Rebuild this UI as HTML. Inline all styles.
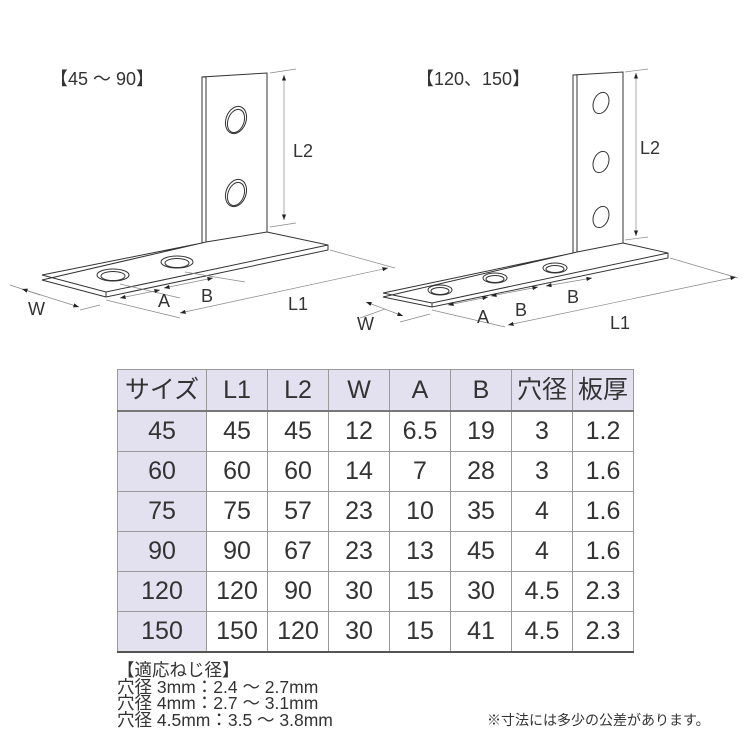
<!DOCTYPE html>
<html><head><meta charset="utf-8"><style>
body{margin:0;background:#fff;width:750px;height:750px;overflow:hidden;position:relative;font-family:"Liberation Sans","Noto Sans CJK JP",sans-serif;color:#333}
svg{position:absolute;left:0;top:0}
table{position:absolute;left:117px;top:369px;border-collapse:collapse;font-size:25px;color:#333}
td{border:1px solid #999;text-align:center;padding:0;height:39px;width:60px;line-height:39px}
tr:first-child td{background:#e3e1f0;height:40px;border-bottom:2px solid #777}
td:first-child{background:#e3e1f0;width:88px}
tr:last-child td{border-bottom:2px solid #555}
.note{position:absolute;left:117px;top:662px;font-size:17.5px;line-height:16.5px;color:#333}
.note2{position:absolute;left:487px;top:710px;font-size:14px;color:#333}
</style></head><body>
<svg width="750" height="750" viewBox="0 0 750 750" fill="none" stroke="#333" stroke-width="1">
<defs><marker id="a" markerWidth="8" markerHeight="6" refX="8" refY="3" orient="auto-start-reverse"><path d="M0,0L8,3L0,6Z" fill="#222" stroke="none"/></marker></defs>
<g>
<path d="M202,243 L202,77 L267,73 L267,232 M206,243 L206,77 M202,77 L206,77" />
<path d="M42,275 L202,243 M206,242 L267,232 L328,245 L328,250 L106,297 L42,280 Z M42,275 L106,292 L328,245 M106,292 L106,297" fill="#fff"/>
<ellipse cx="113" cy="275" rx="16" ry="6"/><ellipse cx="113" cy="276" rx="12" ry="4.5"/>
<ellipse cx="177" cy="262" rx="16" ry="6"/><ellipse cx="177" cy="263" rx="12" ry="4.5"/>
<ellipse cx="236" cy="120" rx="10" ry="14" transform="rotate(20 236 120)"/><ellipse cx="236" cy="121" rx="8" ry="12" transform="rotate(20 236 121)"/>
<ellipse cx="236" cy="193" rx="10" ry="14" transform="rotate(20 236 193)"/><ellipse cx="236" cy="194" rx="8" ry="12" transform="rotate(20 236 194)"/>
<g stroke="#888" stroke-width="0.7">
<path d="M270,73 L296,69 M270,227 L296,223 M330,250 L395,268 M106,300 L180,318 M10,285 L40,295 M80,310 L100,305 M120,284 L180,298 M185,272 L245,282"/>
<path d="M284,75 L284,220" marker-start="url(#a)" marker-end="url(#a)"/>
<path d="M180,313 L388,268" marker-start="url(#a)" marker-end="url(#a)"/>
<path d="M22,289 L79,307" marker-start="url(#a)" marker-end="url(#a)"/>
<path d="M120,298 L160,290" marker-start="url(#a)" marker-end="url(#a)"/>
<path d="M164,288 L213,278" marker-start="url(#a)" marker-end="url(#a)"/>
</g>
</g>
<g>
<path d="M573,253 L573,75 L623,72 L623,243 M577,252 L577,75" />
<path d="M383,293 L573,253 M577,252 L623,243 L668,253 L668,258 L432,307 L383,297 Z M383,293 L432,303 L668,253 M432,303 L432,307" fill="#fff"/>
<ellipse cx="440" cy="290" rx="12" ry="5"/><ellipse cx="440" cy="291" rx="9" ry="3.5"/>
<ellipse cx="495" cy="278" rx="12" ry="5"/><ellipse cx="495" cy="279" rx="9" ry="3.5"/>
<ellipse cx="555" cy="268" rx="12" ry="5"/><ellipse cx="555" cy="269" rx="9" ry="3.5"/>
<g><ellipse cx="601" cy="103" rx="7.5" ry="11" transform="rotate(20 601 103)"/><ellipse cx="601" cy="162" rx="7.5" ry="11" transform="rotate(20 601 162)"/><ellipse cx="601" cy="217" rx="7.5" ry="11" transform="rotate(20 601 217)"/></g>
<g stroke="#888" stroke-width="0.7">
<path d="M625,72 L648,69 M625,240 L648,237 M670,258 L738,278 M432,310 L505,327 M360,318 L385,309 M400,322 L430,314"/>
<path d="M636,73 L636,236" marker-start="url(#a)" marker-end="url(#a)"/>
<path d="M508,325 L736,277" marker-start="url(#a)" marker-end="url(#a)"/>
<path d="M366,302 L403,316" marker-start="url(#a)" marker-end="url(#a)"/>
<path d="M448,305 L488,297" marker-start="url(#a)" marker-end="url(#a)"/>
<path d="M491,296 L538,287" marker-start="url(#a)" marker-end="url(#a)"/>
<path d="M546,286 L592,278" marker-start="url(#a)" marker-end="url(#a)"/>
</g>
</g>
<g fill="#333" stroke="none" font-family="Liberation Sans, Noto Sans CJK JP, sans-serif" font-size="18">
<text x="50" y="85">【45 ～ 90】</text>
<text x="416" y="85">【120、150】</text>
<text x="293" y="157">L2</text>
<text x="640" y="154">L2</text>
<text x="288" y="310">L1</text>
<text x="610" y="329">L1</text>
<text x="28" y="315">W</text>
<text x="357" y="330">W</text>
<text x="158" y="307">A</text>
<text x="201" y="302">B</text>
<text x="477" y="323">A</text>
<text x="515" y="316">B</text>
<text x="567" y="303">B</text>
</g>
</svg>
<table>
<tr><td>サイズ</td><td>L1</td><td>L2</td><td>W</td><td>A</td><td>B</td><td>穴径</td><td>板厚</td></tr>
<tr><td>45</td><td>45</td><td>45</td><td>12</td><td>6.5</td><td>19</td><td>3</td><td>1.2</td></tr>
<tr><td>60</td><td>60</td><td>60</td><td>14</td><td>7</td><td>28</td><td>3</td><td>1.6</td></tr>
<tr><td>75</td><td>75</td><td>57</td><td>23</td><td>10</td><td>35</td><td>4</td><td>1.6</td></tr>
<tr><td>90</td><td>90</td><td>67</td><td>23</td><td>13</td><td>45</td><td>4</td><td>1.6</td></tr>
<tr><td>120</td><td>120</td><td>90</td><td>30</td><td>15</td><td>30</td><td>4.5</td><td>2.3</td></tr>
<tr><td>150</td><td>150</td><td>120</td><td>30</td><td>15</td><td>41</td><td>4.5</td><td>2.3</td></tr>
</table>
<div class="note">【適応ねじ径】<br>穴径 3mm：2.4 ～ 2.7mm<br>穴径 4mm：2.7 ～ 3.1mm<br>穴径 4.5mm：3.5 ～ 3.8mm</div>
<div class="note2">※寸法には多少の公差があります。</div>
</body></html>
